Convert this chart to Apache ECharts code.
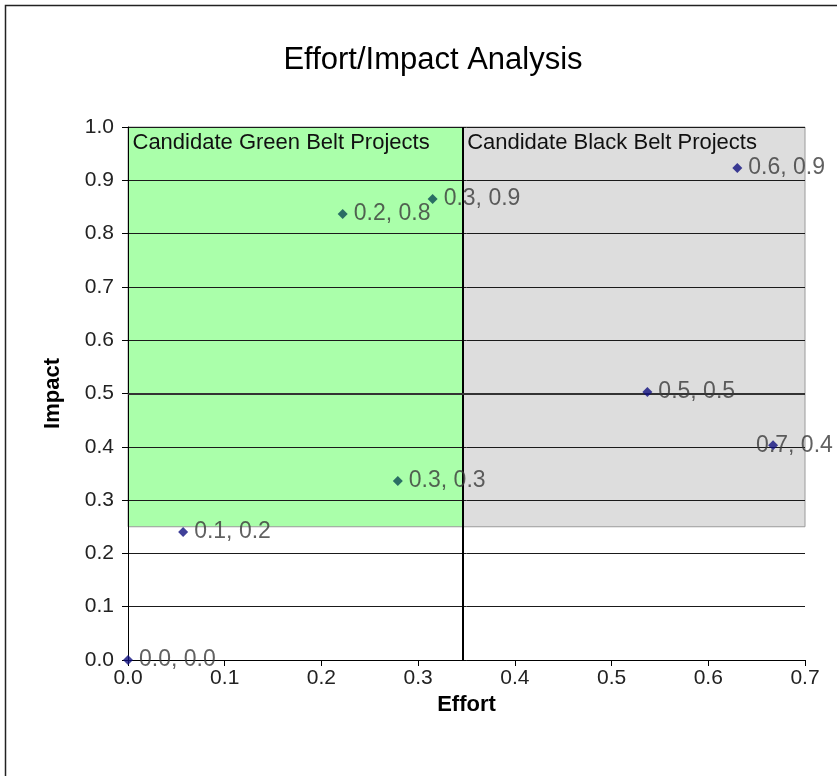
<!DOCTYPE html>
<html lang="en">
<head>
	<meta charset="UTF-8">
	<title>Effort/Impact Analysis</title>
	<style>
       html, body { margin: 0; padding: 0; background: #fff; }
       #chart_box { width: 837px; height: 776px; }
	</style>
	<script type="text/javascript" src="https://cdn.jsdelivr.net/npm/echarts@6/dist/echarts.min.js"></script>
</head>
<body>
	<div id="chart_box"></div>
	<script type="text/javascript">
      // data
      var effort = [0.0, 0.057, 0.222, 0.315, 0.279, 0.630, 0.537, 0.667];
      var impact = [0.0, 0.240, 0.837, 0.865, 0.336, 0.923, 0.503, 0.403];
      var xTicks = [0.0, 0.1, 0.2, 0.3, 0.4, 0.5, 0.6, 0.7];
      var yTicks = [0.0, 0.1, 0.2, 0.3, 0.4, 0.5, 0.6, 0.7, 0.8, 0.9, 1.0];
      var divider = 0.346;    // effort split between green / black belt
      var floorImpact = 0.25; // candidate zone starts here
      var midImpact = 0.5;
      var zoneNames = ['Candidate Green Belt Projects', 'Candidate Black Belt Projects'];

      var chart = echarts.init(document.getElementById('chart_box'));

      var points = [];
      for (var i = 0; i < effort.length; i++) {
        var onGreen = effort[i] < divider && impact[i] >= floorImpact;
        var p = {
          value: [effort[i], impact[i]],
          itemStyle: { color: onGreen ? '#0a4a52' : '#101080' }
        };
        // excel shoved the last label back inside the frame
        if (effort[i] > 0.65) {
          p.label = { offset: [-28, 0] };
        }
        points.push(p);
      }

      var font = 'Arial, "Liberation Sans", sans-serif';
      var xMax = xTicks[xTicks.length - 1];
      var yMax = yTicks[yTicks.length - 1];

      var option = {
        animation: false,
        backgroundColor: '#fff',
        title: {
          text: 'Effort/Impact Analysis',
          left: 428,
          textAlign: 'center',
          top: 40,
          textStyle: { fontFamily: font, fontSize: 31, fontWeight: 'normal', color: '#000' }
        },
        graphic: [{
          type: 'polyline',
          shape: { points: [[5.5, 776], [5.5, 5.5], [837, 5.5]] },
          style: { fill: 'none', stroke: '#222', lineWidth: 1.5 },
          silent: true
        }],
        grid: { left: 128, right: 32, top: 127, bottom: 116 },
        xAxis: {
          type: 'value',
          min: xTicks[0],
          max: xMax,
          interval: 0.1,
          name: 'Effort',
          nameLocation: 'middle',
          nameGap: 34,
          nameTextStyle: { fontFamily: font, fontSize: 22, fontWeight: 'bold', color: '#000', verticalAlign: 'top' },
          axisLine: { show: true, onZero: false, lineStyle: { color: '#000', width: 1 } },
          axisTick: { show: true, length: 6, lineStyle: { color: '#000' } },
          axisLabel: {
            fontFamily: font, fontSize: 21, color: '#222', margin: 8,
            formatter: function (v) { return v.toFixed(1); }
          },
          splitLine: { show: false },
          z: 3
        },
        yAxis: {
          type: 'value',
          min: yTicks[0],
          max: yMax,
          interval: 0.1,
          name: 'Impact',
          nameLocation: 'middle',
          nameGap: 64,
          nameRotate: 90,
          nameTextStyle: { fontFamily: font, fontSize: 22, fontWeight: 'bold', color: '#000' },
          axisLine: { show: true, onZero: false, lineStyle: { color: '#000', width: 1 } },
          axisTick: { show: true, length: 6, lineStyle: { color: '#000' } },
          axisLabel: {
            fontFamily: font, fontSize: 21, color: '#222', margin: 14,
            formatter: function (v) { return v.toFixed(1); }
          },
          splitLine: { show: true, lineStyle: { color: '#1a1a1a', width: 1 } },
          z: 3
        },
        series: [
          {
            // the two candidate zones
            type: 'scatter',
            coordinateSystem: 'cartesian2d',
            data: [],
            z: 1,
            silent: true,
            markArea: {
              silent: true,
              label: {
                show: true,
                position: 'insideTopLeft',
                distance: 5,
                fontFamily: font,
                fontSize: 22,
                color: '#111'
              },
              data: [
                [{
                  name: zoneNames[0],
                  coord: [xTicks[0], yMax],
                  itemStyle: { color: '#aaffaa', borderColor: '#9a9a9a', borderWidth: 1 }
                }, { coord: [divider, floorImpact] }],
                [{
                  name: zoneNames[1],
                  coord: [divider, yMax],
                  itemStyle: { color: '#dddddd', borderColor: '#9a9a9a', borderWidth: 1 }
                }, { coord: [xMax, floorImpact] }]
              ]
            }
          },
          {
            type: 'scatter',
            coordinateSystem: 'cartesian2d',
            data: [],
            z: 4,
            silent: true,
            markLine: {
              silent: true,
              symbol: 'none',
              precision: 4,
              label: { show: false },
              data: [
                [{ coord: [divider, yTicks[0]], lineStyle: { color: '#000', width: 2, type: 'solid' } },
                 { coord: [divider, yMax] }],
                [{ coord: [xTicks[0], midImpact], lineStyle: { color: '#333', width: 2, type: 'solid' } },
                 { coord: [xMax, midImpact] }]
              ]
            }
          },
          {
            type: 'scatter',
            symbol: 'diamond',
            symbolSize: 10,
            z: 5,
            data: points,
            label: {
              show: true,
              position: 'right',
              distance: 6,
              fontFamily: font,
              fontSize: 23,
              color: '#3a3a3a',
              formatter: function (p) {
                return p.value[0].toFixed(1) + ', ' + p.value[1].toFixed(1);
              }
            }
          }
        ]
      };
      chart.setOption(option);
	</script>
</body>
</html>
